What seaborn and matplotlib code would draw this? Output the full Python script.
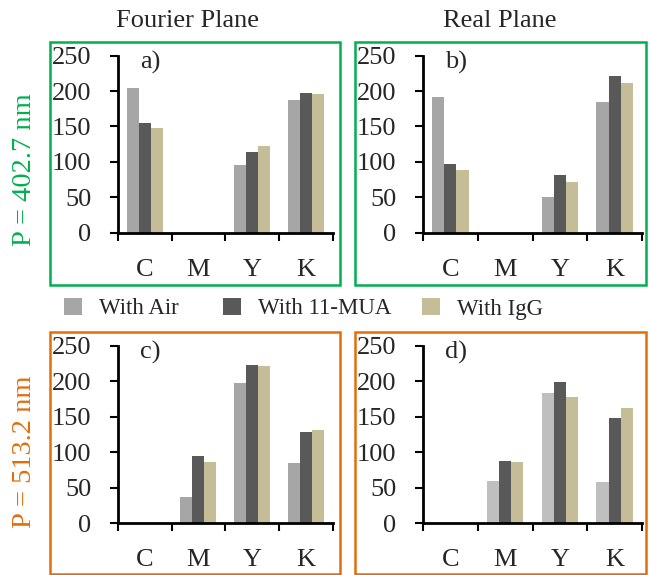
import matplotlib
matplotlib.use("Agg")
import matplotlib.pyplot as plt
import seaborn as sns
import pandas as pd
from matplotlib.patches import Rectangle

sns.set_style("white")
plt.rcParams['font.family'] = ['Liberation Serif', 'DejaVu Serif']

categories = ["C", "M", "Y", "K"]
series = ["With Air", "With 11-MUA", "With IgG"]

# Panel a) Fourier Plane, P = 402.7 nm
a_air = [205, 0, 95, 187]
a_mua = [155, 0, 114, 198]
a_igg = [148, 0, 123, 196]
# Panel b) Real Plane, P = 402.7 nm
b_air = [192, 0, 50, 184]
b_mua = [97, 0, 82, 221]
b_igg = [88, 0, 71, 211]
# Panel c) Fourier Plane, P = 513.2 nm
c_air = [0, 36, 198, 84]
c_mua = [0, 95, 223, 129]
c_igg = [0, 86, 221, 131]
# Panel d) Real Plane, P = 513.2 nm
d_air = [0, 59, 184, 58]
d_mua = [0, 88, 199, 148]
d_igg = [0, 86, 178, 163]

yticks = [0, 50, 100, 150, 200, 250]

palette = ["#a6a6a6", "#595959", "#c4bd97"]
palette_d = ["#bfbfbf", "#595959", "#c4bd97"]
GREEN = "#00b050"
ORANGE = "#e46c0a"

W, H = 649, 575
fig = plt.figure(figsize=(W / 100, H / 100), dpi=100)


def frac(x0, y0, x1, y1):
    return [x0 / W, 1 - y1 / H, (x1 - x0) / W, (y1 - y0) / H]


def make_df(air, mua, igg):
    rows = []
    for s, vals in zip(series, [air, mua, igg]):
        for c, v in zip(categories, vals):
            rows.append({"cat": c, "series": s, "value": v})
    return pd.DataFrame(rows)


panels = [
    ("a)", (a_air, a_mua, a_igg), frac(117.7, 55.7, 333, 232.7), palette),
    ("b)", (b_air, b_mua, b_igg), frac(423, 55.7, 642, 232.7), palette),
    ("c)", (c_air, c_mua, c_igg), frac(117.7, 345.7, 333, 523), palette),
    ("d)", (d_air, d_mua, d_igg), frac(423, 346, 642, 523), palette_d),
]

for label, data, pos, pal in panels:
    ax = fig.add_axes(pos)
    df = make_df(*data)
    sns.barplot(data=df, x="cat", y="value", hue="series", order=categories,
                hue_order=series, palette=pal, width=0.67, linewidth=0,
                saturation=1, ax=ax, legend=False)
    ax.set_xlim(-0.5, 3.5)
    ax.set_ylim(0, 250)
    ax.set_yticks(yticks)
    ax.set_yticklabels([str(t) for t in yticks], fontsize=19)
    ax.set_xticks([-0.5, 0.5, 1.5, 2.5, 3.5])
    ax.set_xticklabels([""] * 5)
    ax.set_xticks([0, 1, 2, 3], minor=True)
    ax.set_xticklabels(categories, minor=True, fontsize=19)
    ax.tick_params(axis="x", which="major", direction="out", length=6, width=1.5,
                   color="black", bottom=True)
    ax.tick_params(axis="x", which="minor", length=0, pad=19, bottom=True)
    ax.tick_params(axis="y", direction="out", length=6, width=1.5, color="black",
                   pad=13, left=True)
    ax.set_xlabel("")
    ax.set_ylabel("")
    for s in ["top", "right"]:
        ax.spines[s].set_visible(False)
    for s in ["left", "bottom"]:
        ax.spines[s].set_linewidth(2)
        ax.spines[s].set_color("black")
    ax.text(0.1, 241, label, fontsize=19, ha="center", va="center")
    ax.patch.set_alpha(0)

# Panel frames
frames = [
    (50, 42, 340, 285, GREEN),
    (355, 42, 646, 285, GREEN),
    (50, 332, 340, 574, ORANGE),
    (355, 332, 646, 574, ORANGE),
]
for x0, y0, x1, y1, col in frames:
    fig.patches.append(Rectangle((x0 / W, 1 - y1 / H), (x1 - x0) / W, (y1 - y0) / H,
                                 transform=fig.transFigure, fill=False,
                                 edgecolor=col, linewidth=1.8, zorder=10))

fig.text(187 / W, 1 - 21 / H, "Fourier Plane", fontsize=19, ha="center", va="center")
fig.text(500 / W, 1 - 21 / H, "Real Plane", fontsize=19, ha="center", va="center")
fig.text(25 / W, 1 - 170 / H, "P = 402.7 nm", fontsize=20.5, color=GREEN,
         rotation=90, ha="center", va="center")
fig.text(25 / W, 1 - 452 / H, "P = 513.2 nm", fontsize=20.5, color=ORANGE,
         rotation=90, ha="center", va="center")

# Legend
leg_items = [(64, "With Air", palette[0]), (223, "With 11-MUA", palette[1]),
             (422, "With IgG", palette[2])]
for x, txt, col in leg_items:
    fig.patches.append(Rectangle((x / W, 1 - 315 / H), 18 / W, 17 / H,
                                 transform=fig.transFigure, facecolor=col,
                                 edgecolor="none"))
    fig.text((x + 35) / W, 1 - 309 / H, txt, fontsize=16.5, ha="left", va="center")

fig.savefig("out.png", dpi=100)
